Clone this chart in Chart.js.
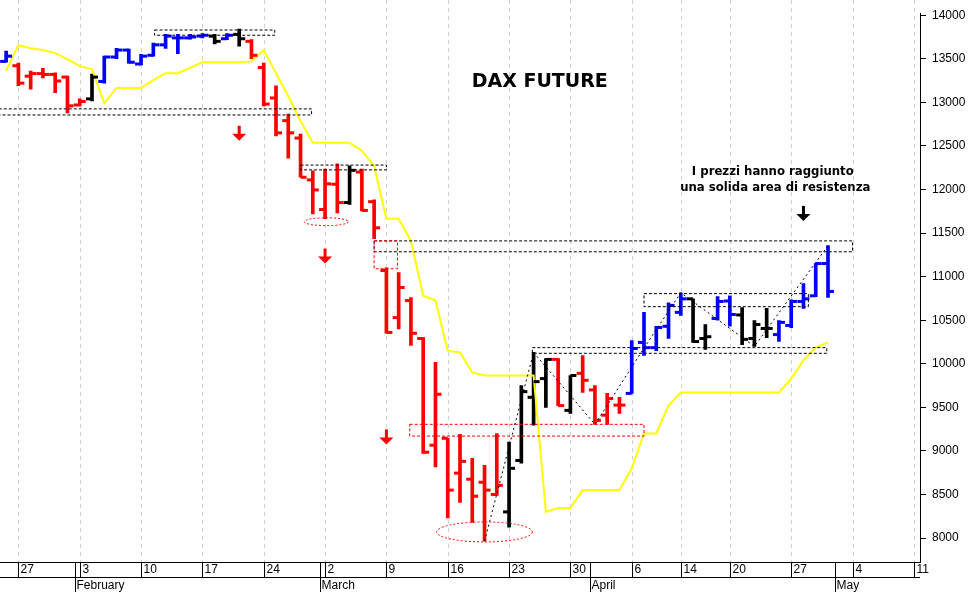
<!DOCTYPE html>
<html>
<head>
<meta charset="utf-8">
<script src="https://cdn.jsdelivr.net/npm/chart.js@4"></script>
<style>
  html, body { margin: 0; padding: 0; background: #fff; }
  #wrap { width: 970px; height: 592px; }
</style>
</head>
<body>
<div id="wrap"><canvas id="daxChart"></canvas></div>
<script>
// trading days (2020), incl. empty days after the last bar
const days = ['01-24','01-27','01-28','01-29','01-30','01-31',
  '02-03','02-04','02-05','02-06','02-07','02-10','02-11','02-12','02-13','02-14',
  '02-17','02-18','02-19','02-20','02-21','02-24','02-25','02-26','02-27','02-28',
  '03-02','03-03','03-04','03-05','03-06','03-09','03-10','03-11','03-12','03-13',
  '03-16','03-17','03-18','03-19','03-20','03-23','03-24','03-25','03-26','03-27','03-30','03-31',
  '04-01','04-02','04-03','04-06','04-07','04-08','04-09','04-14','04-15','04-16','04-17',
  '04-20','04-21','04-22','04-23','04-24','04-27','04-28','04-29','04-30',
  '05-01','05-04','05-05','05-06','05-07','05-08','05-11'];
const weekTicks = ['01-27','02-03','02-10','02-17','02-24','03-02','03-09','03-16','03-23','03-30',
  '04-06','04-14','04-20','04-27','05-04','05-11'];
const months = [['02-03','February'],['03-02','March'],['04-01','April'],['05-01','May']];
const priceTicks = [8000,8500,9000,9500,10000,10500,11000,11500,12000,12500,13000,13500,14000];

const opens  = [13470,13420,13300,13330,13320,13290,12970,13040,13240,13520,13600,13440,13540,13660,13740,13740,13760,13760,13730,13780,13700,13400,13050,12790,12590,12110,11770,12060,11850,12200,11860,11070,10530,10725,10290,9065,9145,8745,8675,8640,8500,8300,8890,9615,9830,10050,9465,9890,9700,9410,9525,9660,10245,10185,10430,10590,10745,10290,10520,10720,10560,10290,10405,10335,10440,10715,10780,11150];
const highs  = [13588,13450,13360,13390,13340,13300,13040,13325,13530,13620,13610,13550,13680,13780,13780,13780,13790,13780,13790,13840,13720,13450,13190,12865,12635,12215,12235,12295,12270,12235,11880,11100,11045,10760,10300,10015,9145,9190,8915,8835,9200,9100,9750,10130,10060,10060,9865,10095,9750,9660,9615,10265,10590,10430,10700,10815,10745,10450,10770,10780,10645,10495,10635,10495,10735,10920,11150,11355];
const lows   = [13460,13190,13150,13280,13110,12880,12960,13015,13220,13500,13450,13430,13530,13620,13560,13725,13740,13670,13720,13645,13500,12960,12615,12360,12140,11720,11665,11730,11830,11755,11435,10350,10400,10210,8970,8815,8230,8410,8180,7965,8490,8125,8860,9295,9500,9520,9430,9670,9305,9305,9430,9660,10095,10150,10290,10555,10245,10165,10500,10430,10220,10200,10300,10255,10415,10635,10770,10760];
const closes = [13530,13220,13330,13320,13245,12960,13010,13290,13520,13600,13460,13530,13660,13760,13740,13750,13770,13700,13770,13730,13540,12980,12650,12650,12140,11995,12065,11850,12220,11760,11560,10360,10875,10350,8985,9650,8550,8880,8480,8550,8605,8800,9680,9795,10050,9520,9865,9810,9350,9600,9525,10175,10185,10415,10670,10745,10255,10310,10715,10565,10280,10450,10405,10475,10715,10745,11150,10830];
const trend  = 'brrrrrrkbbbbbbbbbkbkrrrrrrrrkrrrrrrrrrrrrkkkkrkrrrrbbbbbkkbbkkkbbbbb';
const stopLine = [13360,13656,13620,13600,13565,13495,13415,13380,12990,13165,13165,13165,13255,13335,13335,13395,13460,13460,13460,13460,13470,13600,13335,13070,12785,12535,12535,12535,12535,12445,12270,11665,11665,11410,10780,10725,10150,10130,9900,9865,9865,9865,9865,9865,8300,8345,8345,8550,8550,8550,8550,8800,9200,9200,9520,9670,9670,9670,9670,9670,9670,9670,9670,9670,9830,10040,10185,10245];

// annotations in [day index, value]
const blackBoxes = [[12.1,21.9,13830,13770],[-0.6,24.9,12925,12855],[24,31,12280,12225],[30,69,11410,11285],[42.9,66.9,10185,10120],[52,65.4,10805,10655]];
const redBoxes = [[30,31.9,11410,11090],[32.9,52,9305,9170]];
const redEllipses = [[26.1,11630,1.8,45],[39,8070,3.9,115]];
const trendLines = [[[39,7965],[43,10130]],[[43,10130],[48,9305],[52,10180],[55,10815],[61,10200],[67,11355]]];
const arrows = [[19,12640,'#ff0000'],[26,11230,'#ff0000'],[31,9155,'#ff0000'],[65,11720,'#000000']];

const colorOf = c => c === 'b' ? '#0000ff' : (c === 'r' ? '#ff0000' : '#000000');
const barColors = trend.split('').map(colorOf);

const ohlcPlugin = {
  id: 'ohlc',
  beforeDatasetsDraw(chart) {
    const ctx = chart.ctx, xs = chart.scales.x, a = chart.chartArea;
    ctx.save();
    // weekly dashed gridlines
    ctx.strokeStyle = '#d0d0d0'; ctx.lineWidth = 1; ctx.setLineDash([4, 4]);
    weekTicks.forEach(d => {
      const x = Math.round(xs.getPixelForValue(days.indexOf(d))) + 0.5;
      ctx.beginPath(); ctx.moveTo(x, 0); ctx.lineTo(x, a.bottom); ctx.stroke();
    });
    ctx.restore();
  },
  afterDatasetsDraw(chart) {
    const ctx = chart.ctx, xs = chart.scales.x, ys = chart.scales.y, a = chart.chartArea;
    const X = i => xs.getPixelForValue(i), Y = v => ys.getPixelForValue(v);
    ctx.save();
    // open / close ticks
    ctx.lineWidth = 3; ctx.setLineDash([]);
    opens.forEach((o, i) => {
      const x = X(i);
      ctx.strokeStyle = barColors[i];
      ctx.beginPath(); ctx.moveTo(x - 6, Y(o)); ctx.lineTo(x, Y(o)); ctx.stroke();
      ctx.beginPath(); ctx.moveTo(x, Y(closes[i])); ctx.lineTo(x + 6, Y(closes[i])); ctx.stroke();
    });
    // boxes
    ctx.lineWidth = 1; ctx.setLineDash([3, 2]);
    const box = (b, col) => {
      ctx.strokeStyle = col;
      ctx.strokeRect(X(b[0]), Y(b[2]), X(b[1]) - X(b[0]), Y(b[3]) - Y(b[2]));
    };
    blackBoxes.forEach(b => box(b, '#000'));
    redBoxes.forEach(b => box(b, '#ff0000'));
    ctx.strokeStyle = '#ff0000'; ctx.setLineDash([2, 2]);
    redEllipses.forEach(e => {
      const cx = X(e[0]), cy = Y(e[1]);
      ctx.beginPath();
      ctx.ellipse(cx, cy, X(e[0] + e[2]) - cx, Y(e[1] - e[3]) - cy, 0, 0, Math.PI * 2);
      ctx.stroke();
    });
    ctx.strokeStyle = '#000'; ctx.setLineDash([2, 3]);
    trendLines.forEach(l => {
      ctx.beginPath();
      l.forEach((p, k) => k ? ctx.lineTo(X(p[0]), Y(p[1])) : ctx.moveTo(X(p[0]), Y(p[1])));
      ctx.stroke();
    });
    ctx.setLineDash([]);
    arrows.forEach(ar => {
      const x = X(ar[0]), y = Y(ar[1]);
      ctx.fillStyle = ar[2];
      ctx.fillRect(x - 1.5, y - 8, 3, 9);
      ctx.beginPath(); ctx.moveTo(x - 7, y); ctx.lineTo(x + 7, y); ctx.lineTo(x, y + 7); ctx.closePath(); ctx.fill();
    });
    // texts
    ctx.fillStyle = '#000'; ctx.textAlign = 'center'; ctx.textBaseline = 'middle';
    ctx.font = 'bold 19px "DejaVu Sans"';
    ctx.fillText('DAX FUTURE', X(43.5), Y(13233));
    ctx.font = 'bold 13px "DejaVu Sans Condensed"';
    ctx.fillText('I prezzi hanno raggiunto', X(62.5), Y(12200));
    ctx.fillText('una solida area di resistenza', X(62.7), Y(12020));
    // bottom date axis
    const bot = a.bottom, row = bot + 15;
    ctx.strokeStyle = '#000'; ctx.lineWidth = 1;
    ctx.beginPath(); ctx.moveTo(0, bot + 0.5); ctx.lineTo(a.right, bot + 0.5);
    ctx.moveTo(0, row + 0.5); ctx.lineTo(a.right, row + 0.5); ctx.stroke();
    ctx.textAlign = 'left'; ctx.textBaseline = 'middle';
    ctx.font = '12px "Liberation Sans Narrow", "Liberation Sans"';
    weekTicks.forEach(d => {
      const x = Math.round(X(days.indexOf(d))) + 0.5;
      ctx.beginPath(); ctx.moveTo(x, bot); ctx.lineTo(x, row); ctx.stroke();
      if (x < a.right) ctx.fillText(String(+d.slice(3)), x + 2, bot + 8);
    });
    months.forEach(m => {
      const x = Math.round(X(days.indexOf(m[0]) - 0.4)) + 0.5;
      ctx.beginPath(); ctx.moveTo(x, bot); ctx.lineTo(x, chart.height); ctx.stroke();
      ctx.fillText(m[1], x + 1, row + 9);
    });
    ctx.restore();
  }
};

new Chart(document.getElementById('daxChart'), {
  data: {
    labels: days,
    datasets: [
      {
        type: 'line',
        data: stopLine,
        borderColor: '#ffff00',
        borderWidth: 2,
        pointRadius: 0,
        tension: 0,
      },
      {
        type: 'bar',
        data: lows.map((l, i) => [l, highs[i]]),
        backgroundColor: barColors,
        barThickness: 3,
        borderSkipped: false,
      }
    ]
  },
  options: {
    responsive: true,
    maintainAspectRatio: false,
    animation: false,
    layout: { padding: { bottom: 30 } },
    plugins: { legend: { display: false }, tooltip: { enabled: false } },
    scales: {
      x: { display: false, offset: true },
      y: {
        position: 'right',
        min: 7725,
        max: 14023,
        afterBuildTicks: s => { s.ticks = priceTicks.map(v => ({ value: v })); },
        afterFit: s => { s.width = 50; },
        grid: { drawOnChartArea: false, tickLength: 6, color: '#000' },
        border: { color: '#000' },
        ticks: { color: '#000', font: { family: 'Liberation Sans', size: 12 }, padding: 6, callback: v => String(v) }
      }
    }
  },
  plugins: [ohlcPlugin]
});
</script>
</body>
</html>
